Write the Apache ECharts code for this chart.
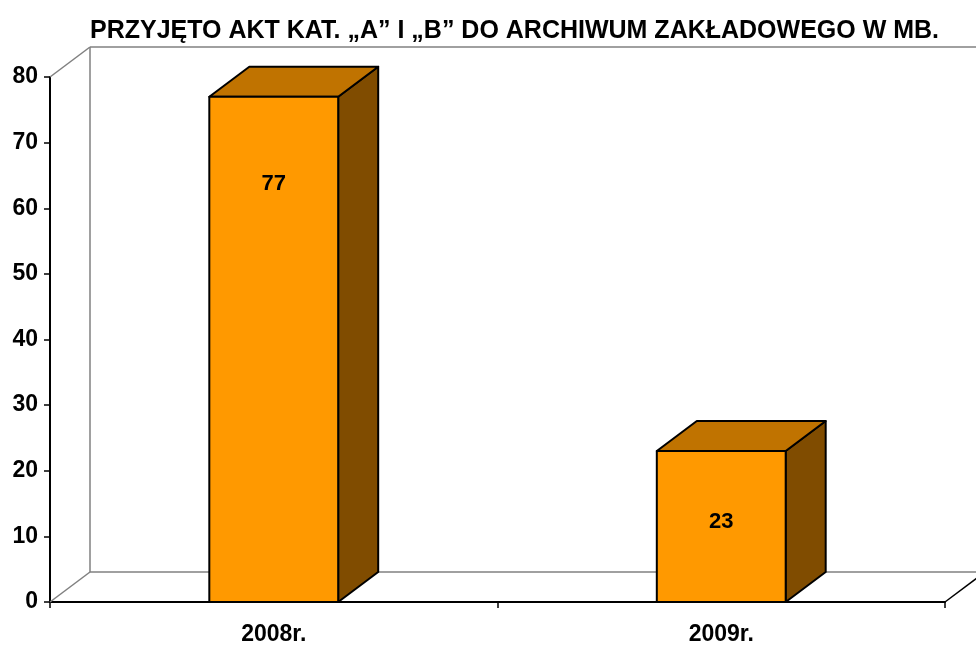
<!DOCTYPE html>
<html><head><meta charset="utf-8">
<script src="https://cdn.jsdelivr.net/npm/echarts@6/dist/echarts.min.js"></script>
<style>html,body{margin:0;padding:0;background:#fff}#c{width:976px;height:646px}</style>
</head><body><div id="c"></div>
<script>
const titleText = 'PRZYJĘTO AKT KAT. „A” I „B” DO ARCHIWUM ZAKŁADOWEGO W MB.';
const categories = ['2008r.', '2009r.'];
const values = [77, 23];
const yMin = 0, yMax = 80, yStep = 10;

// style
const DX = 40, DY = -30;
const barRatio = 0.288;
const labelOffsets = [87, 71];
const FONT = '"Liberation Sans", Arial, sans-serif';

const chart = echarts.init(document.getElementById('c'));

function renderWalls(params, api) {
  const cs = params.coordSys;
  const x = cs.x, y = cs.y, w = cs.width, h = cs.height;
  const gray = {stroke: '#808080', lineWidth: 1.5};
  const ln = (a, b, st) => ({type: 'line', shape: {x1: a[0], y1: a[1], x2: b[0], y2: b[1]}, style: st});
  return {type: 'group', children: [
    ln([x, y], [x + DX, y + DY], gray),
    ln([x, y + h], [x + DX, y + h + DY], gray),
    ln([x + DX, y + DY], [x + DX, y + h + DY], gray),
    ln([x + DX, y + DY], [x + w + DX, y + DY], gray),
    ln([x + DX, y + h + DY], [x + w + DX, y + h + DY], gray),
    ln([x + w + DX, y + DY], [x + w + DX, y + h + DY], gray),
    ln([x + w, y + h], [x + w + DX, y + h + DY], {stroke: '#000', lineWidth: 1.5})
  ]};
}

function renderBar(params, api) {
  const i = params.dataIndex;
  const cat = api.value(0), v = api.value(1);
  const top = api.coord([cat, v]);
  const base = api.coord([cat, 0]);
  const bw = api.size([1, 0])[0] * barRatio;
  const x0 = top[0] - bw / 2, x1 = top[0] + bw / 2;
  const yt = top[1], yb = base[1];
  const border = {stroke: '#000', lineWidth: 2, lineJoin: 'round'};
  return {type: 'group', children: [
    {type: 'polygon', shape: {points: [[x1, yt], [x1 + DX, yt + DY], [x1 + DX, yb + DY], [x1, yb]]},
      style: Object.assign({fill: '#804C00'}, border)},
    {type: 'polygon', shape: {points: [[x0, yt], [x0 + DX, yt + DY], [x1 + DX, yt + DY], [x1, yt]]},
      style: Object.assign({fill: '#C07300'}, border)},
    {type: 'polygon', shape: {points: [[x0, yt], [x1, yt], [x1, yb], [x0, yb]]},
      style: Object.assign({fill: '#FF9900'}, border)},
    {type: 'text', x: top[0], y: yt + labelOffsets[i],
      style: {text: String(values[i]), fill: '#000', fontSize: 22, fontWeight: 'bold',
        fontFamily: 'Liberation Sans', align: 'center', verticalAlign: 'middle'}}
  ]};
}

chart.setOption({
  animation: false,
  backgroundColor: '#fff',
  title: {text: titleText, left: 85, top: 14,
    textStyle: {fontFamily: 'Liberation Sans', fontWeight: 'bold', fontSize: 25, color: '#000'}},
  grid: {left: 50, right: 31, top: 77, bottom: 40, containLabel: false},
  xAxis: {type: 'category', data: categories,
    axisLine: {lineStyle: {color: '#000', width: 2}},
    axisTick: {show: true, length: 6, lineStyle: {color: '#000', width: 1.5}},
    axisLabel: {margin: 21, fontFamily: 'Liberation Sans', fontWeight: 'bold', fontSize: 23, color: '#000'},
    splitLine: {show: false}},
  yAxis: {type: 'value', min: yMin, max: yMax, interval: yStep,
    axisLine: {show: true, lineStyle: {color: '#000', width: 2}},
    axisTick: {show: true, length: 6, lineStyle: {color: '#000', width: 1.5}},
    axisLabel: {margin: 12, fontFamily: 'Liberation Sans', fontWeight: 'bold', fontSize: 23, color: '#000'},
    splitLine: {show: false}},
  series: [
    {type: 'custom', renderItem: renderWalls, data: [[0, 0]], z: 1, silent: true},
    {type: 'custom', renderItem: renderBar, data: categories.map((c, i) => [i, values[i]]), z: 2,
      encode: {x: 0, y: 1}}
  ]
});
</script>
</body></html>
